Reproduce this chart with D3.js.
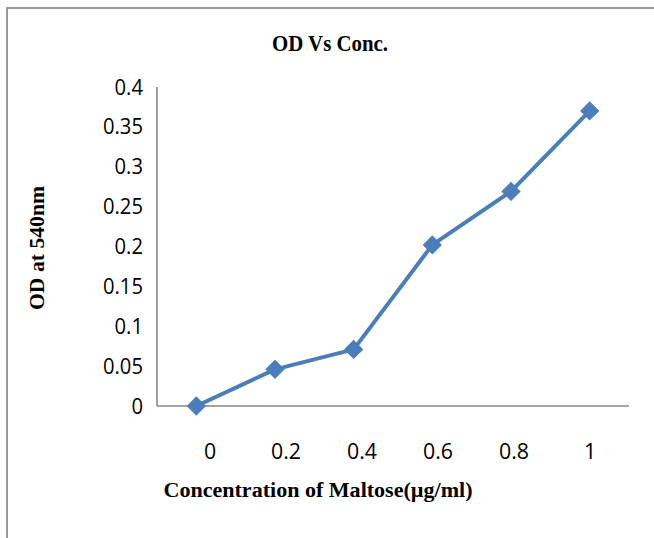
<!DOCTYPE html>
<html><head><meta charset="utf-8">
<script src="https://cdn.jsdelivr.net/npm/d3@7"></script>
<style>html,body{margin:0;padding:0;background:#fff;}</style>
</head><body>
<svg id="c" width="654" height="538"></svg>
<script>
const categories = ["0", "0.2", "0.4", "0.6", "0.8", "1"];
const odValues = [0, 0.046, 0.071, 0.202, 0.269, 0.370];
const yTicks = [0, 0.05, 0.1, 0.15, 0.2, 0.25, 0.3, 0.35, 0.4];
const yTickLabels = ["0", "0.05", "0.1", "0.15", "0.2", "0.25", "0.3", "0.35", "0.4"];

const svg = d3.select("#c");
const blue = "#4a7ebb", axisGray = "#878787";

// outer frame
svg.append("path").attr("d", "M7,538 L7,8 L654,8")
  .attr("fill", "none").attr("stroke", "#9a9a9a").attr("stroke-width", 2);

const x = d3.scaleBand().domain(categories).range([157, 629]);
const xLab = d3.scalePoint().domain(categories).range([210, 590]);
const y = d3.scaleLinear().domain([0, 0.4]).range([406, 87]);

// axes lines
svg.append("line").attr("x1", 157).attr("x2", 157).attr("y1", y(0.4)).attr("y2", y(0))
  .attr("stroke", axisGray).attr("stroke-width", 1.6);
svg.append("line").attr("x1", x.range()[0]).attr("x2", x.range()[1]).attr("y1", y(0)).attr("y2", y(0))
  .attr("stroke", axisGray).attr("stroke-width", 1.6);

// y tick labels
svg.selectAll("text.yt").data(yTicks).enter().append("text")
  .attr("class", "yt")
  .attr("transform", d => `translate(143,${y(d) + 7.5}) scale(0.92,1)`)
  .attr("text-anchor", "end")
  .attr("font-family", "'Open Sans', sans-serif").attr("font-size", 22).attr("fill", "#000")
  .text((d, i) => yTickLabels[i]);

// x tick labels
svg.selectAll("text.xt").data(categories).enter().append("text")
  .attr("class", "xt")
  .attr("transform", d => `translate(${xLab(d)},${458.5}) scale(0.97,1)`)
  .attr("text-anchor", "middle")
  .attr("font-family", "'Open Sans', sans-serif").attr("font-size", 22).attr("fill", "#000")
  .text(d => d);

// line
const line = d3.line().x((d, i) => x(categories[i]) + x.bandwidth() / 2).y(d => y(d));
svg.append("path").datum(odValues).attr("d", line)
  .attr("fill", "none").attr("stroke", blue).attr("stroke-width", 4).attr("stroke-linejoin", "round");

// markers
const sym = d3.symbol(d3.symbolSquare).size(160);
svg.selectAll("path.m").data(odValues).enter().append("path")
  .attr("class", "m")
  .attr("d", sym)
  .attr("transform", (d, i) => `translate(${x(categories[i]) + x.bandwidth() / 2},${y(d)}) rotate(45)`)
  .attr("fill", blue).attr("stroke", blue).attr("stroke-width", 1);

// titles
svg.append("text").attr("x", 330).attr("y", 51).attr("text-anchor", "middle")
  .attr("font-family", "'Liberation Serif', 'Times New Roman', serif").attr("font-weight", "bold")
  .attr("font-size", 24).attr("textLength", 116).attr("lengthAdjust", "spacingAndGlyphs")
  .text("OD Vs Conc.");

svg.append("text").attr("x", 318).attr("y", 497).attr("text-anchor", "middle")
  .attr("font-family", "'Liberation Serif', 'Times New Roman', serif").attr("font-weight", "bold")
  .attr("font-size", 20).attr("textLength", 309).attr("lengthAdjust", "spacingAndGlyphs")
  .text("Concentration of Maltose(µg/ml)");

svg.append("text").attr("transform", "translate(44,248) rotate(-90)").attr("text-anchor", "middle")
  .attr("font-family", "'Liberation Serif', 'Times New Roman', serif").attr("font-weight", "bold")
  .attr("font-size", 20).attr("textLength", 124).attr("lengthAdjust", "spacingAndGlyphs")
  .text("OD at 540nm");
</script>
</body></html>
